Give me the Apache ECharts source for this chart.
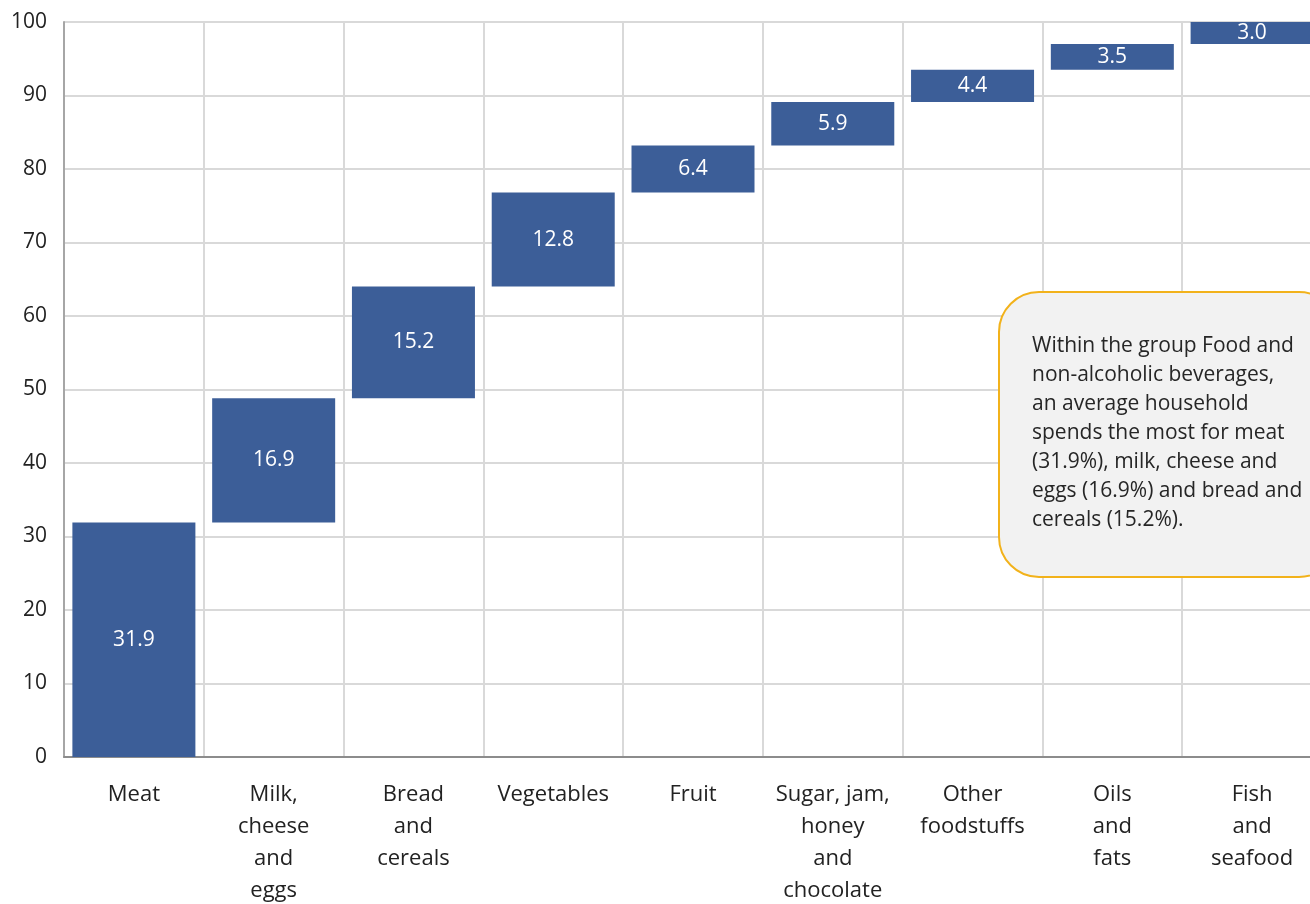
<!DOCTYPE html>
<html>
<head>
<meta charset="utf-8">
<script src="https://cdn.jsdelivr.net/npm/echarts@6/dist/echarts.min.js"></script>
<style>
  html, body { margin: 0; padding: 0; background: #ffffff; }
  #chart { width: 1310px; height: 904px; }
</style>
</head>
<body>
<div id="chart"></div>
<script>
// Category labels (already wrapped the way they are shown under the axis)
const categories = [
  'Meat',
  'Milk,\ncheese\nand\neggs',
  'Bread\nand\ncereals',
  'Vegetables',
  'Fruit',
  'Sugar, jam,\nhoney\nand\nchocolate',
  'Other\nfoodstuffs',
  'Oils\nand\nfats',
  'Fish\nand\nseafood'
];

// Share of food and non-alcoholic beverage spending, %
const shares = [31.9, 16.9, 15.2, 12.8, 6.4, 5.9, 4.4, 3.5, 3.0];

// Y axis ticks
const yTicks = [0, 10, 20, 30, 40, 50, 60, 70, 80, 90, 100];

const noteText = [
  'Within the group Food and',
  'non-alcoholic beverages,',
  'an average household',
  'spends the most for meat',
  '(31.9%), milk, cheese and',
  'eggs (16.9%) and bread and',
  'cereals (15.2%).'
];

// Waterfall: each bar floats on the running total of the preceding bars
const offsets = [];
let running = 0;
shares.forEach(v => { offsets.push(Number(running.toFixed(1))); running += v; });

const chart = echarts.init(document.getElementById('chart'));
const labelFont = '"Open Sans", "Noto Sans", sans-serif';

chart.setOption({
  animation: false,
  backgroundColor: '#ffffff',
  // the plot runs a little past the right edge of the canvas
  grid: {
    left: 64, top: 22, width: 1258, height: 735,
    containLabel: false,
    outerBoundsMode: 'none'
  },
  xAxis: {
    type: 'category',
    data: categories,
    axisLine: { show: true, lineStyle: { color: '#8c8c8c', width: 2 } },
    axisTick: { show: false },
    splitLine: { show: true, interval: 0, lineStyle: { color: '#d9d9d9', width: 2 } },
    axisLabel: {
      interval: 0,
      margin: 22,
      color: '#222222',
      fontFamily: labelFont,
      fontSize: 22,
      lineHeight: 32
    }
  },
  yAxis: {
    type: 'value',
    min: yTicks[0],
    max: yTicks[yTicks.length - 1],
    interval: 10,
    axisLine: { show: true, lineStyle: { color: '#a6a6a6', width: 2 } },
    axisTick: { show: false },
    splitLine: { show: true, lineStyle: { color: '#d9d9d9', width: 2 } },
    axisLabel: {
      margin: 17,
      color: '#222222',
      fontFamily: labelFont,
      fontSize: 21
    }
  },
  series: [
    {
      name: 'offset',
      type: 'bar',
      stack: 'total',
      data: offsets,
      itemStyle: { color: 'transparent' },
      emphasis: { disabled: true },
      silent: true,
      barCategoryGap: '12%'
    },
    {
      name: 'share',
      type: 'bar',
      stack: 'total',
      data: shares,
      barCategoryGap: '12%',
      itemStyle: { color: '#3c5e98' },
      label: {
        show: true,
        position: 'inside',
        color: '#ffffff',
        fontFamily: labelFont,
        fontSize: 21,
        formatter: p => p.value.toFixed(1)
      }
    }
  ],
  graphic: [
    {
      type: 'rect',
      left: 998,
      top: 291,
      shape: { width: 340, height: 285, r: 40 },
      style: { fill: '#f2f2f2', stroke: '#f2b21b', lineWidth: 2 },
      z: 10
    },
    {
      type: 'text',
      left: 1032,
      top: 332,
      style: {
        text: noteText.join('\n'),
        fill: '#262626',
        font: '21px "Open Sans", "Noto Sans", sans-serif',
        lineHeight: 29
      },
      z: 11
    }
  ]
});
</script>
</body>
</html>
